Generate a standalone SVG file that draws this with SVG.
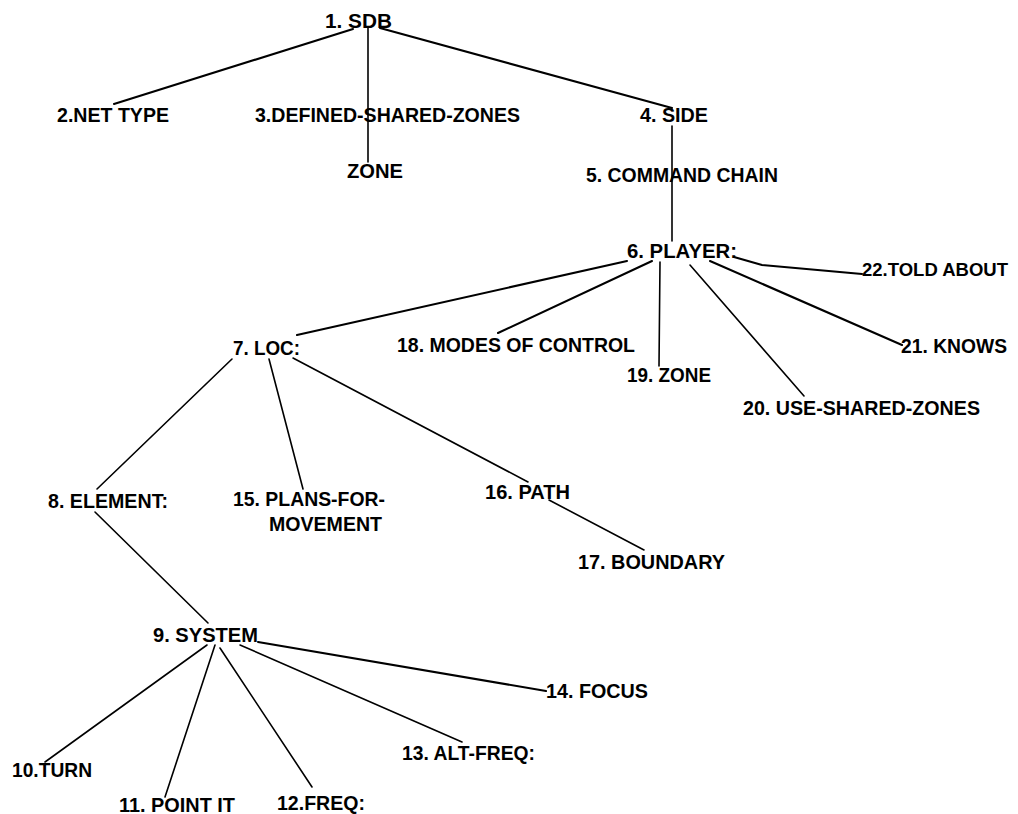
<svg xmlns="http://www.w3.org/2000/svg" width="1018" height="814" viewBox="0 0 1018 814">
<style>
.bg{fill:#ffffff}
.lbl{font-family:"Liberation Sans",Arial,sans-serif;font-weight:bold;font-size:20px;fill:#000}
.c line,.c polyline{stroke:#000;stroke-width:1.6;fill:none;stroke-linecap:round;stroke-linejoin:round}
.c .thick{stroke-width:2.1}
</style>
<rect class="bg" x="0" y="0" width="1018" height="814"/>
<g id="connectors" class="c">
<line class="thick" x1="353" y1="29" x2="114" y2="104"/>
<line x1="368" y1="28" x2="368" y2="162"/>
<line class="thick" x1="380" y1="28" x2="672" y2="108"/>
<line x1="672" y1="126" x2="672" y2="241"/>
<line class="thick" x1="627" y1="261" x2="297" y2="335"/>
<line class="thick" x1="652" y1="261" x2="498" y2="333"/>
<line x1="660" y1="262" x2="659" y2="366"/>
<line x1="690" y1="265" x2="804" y2="396"/>
<line class="thick" x1="710" y1="261" x2="902" y2="345"/>
<polyline class="thick" points="734,257 762,265 862,274"/>
<line x1="232" y1="359" x2="97" y2="489"/>
<line x1="269" y1="359" x2="303" y2="489"/>
<line x1="293" y1="358" x2="528" y2="482"/>
<line x1="549" y1="500" x2="644" y2="550"/>
<line x1="95" y1="512" x2="208" y2="623"/>
<line x1="207" y1="645" x2="45" y2="762"/>
<line x1="215" y1="645" x2="165" y2="797"/>
<line x1="220" y1="648" x2="312" y2="787"/>
<line x1="240" y1="645" x2="462" y2="742"/>
<line class="thick" x1="258" y1="642" x2="546" y2="691"/>
</g>
<g id="n1"><text class="lbl" x="325" y="28" textLength="67" lengthAdjust="spacingAndGlyphs">1. SDB</text></g>
<g id="n2"><text class="lbl" x="57" y="122" textLength="112" lengthAdjust="spacingAndGlyphs">2.NET TYPE</text></g>
<g id="n3"><text class="lbl" x="255" y="122" textLength="265" lengthAdjust="spacingAndGlyphs">3.DEFINED-SHARED-ZONES</text></g>
<g id="n4"><text class="lbl" x="640" y="122" textLength="68" lengthAdjust="spacingAndGlyphs">4. SIDE</text></g>
<g id="n3zone"><text class="lbl" x="347" y="178" textLength="56" lengthAdjust="spacingAndGlyphs">ZONE</text></g>
<g id="n5"><text class="lbl" x="586" y="182" textLength="192" lengthAdjust="spacingAndGlyphs">5. COMMAND CHAIN</text></g>
<g id="n6"><text class="lbl" x="627" y="258" textLength="110" lengthAdjust="spacingAndGlyphs">6. PLAYER:</text></g>
<g id="n22"><text class="lbl" x="862" y="276" style="font-size:18.5px" textLength="146" lengthAdjust="spacingAndGlyphs">22.TOLD ABOUT</text></g>
<g id="n7"><text class="lbl" x="233" y="355" textLength="67" lengthAdjust="spacingAndGlyphs">7. LOC:</text></g>
<g id="n18"><text class="lbl" x="397" y="352" textLength="238" lengthAdjust="spacingAndGlyphs">18. MODES OF CONTROL</text></g>
<g id="n19"><text class="lbl" x="627" y="382" textLength="84" lengthAdjust="spacingAndGlyphs">19. ZONE</text></g>
<g id="n21"><text class="lbl" x="901" y="353" textLength="106" lengthAdjust="spacingAndGlyphs">21. KNOWS</text></g>
<g id="n20"><text class="lbl" x="743" y="415" textLength="237" lengthAdjust="spacingAndGlyphs">20. USE-SHARED-ZONES</text></g>
<g id="n8"><text class="lbl" x="48" y="508" textLength="120" lengthAdjust="spacingAndGlyphs">8. ELEMENT:</text></g>
<g id="n15"><text class="lbl" x="233" y="506" textLength="152" lengthAdjust="spacingAndGlyphs">15. PLANS-FOR-</text><text class="lbl" x="269" y="531" textLength="113" lengthAdjust="spacingAndGlyphs">MOVEMENT</text></g>
<g id="n16"><text class="lbl" x="485" y="499" textLength="85" lengthAdjust="spacingAndGlyphs">16. PATH</text></g>
<g id="n17"><text class="lbl" x="578" y="569" textLength="147" lengthAdjust="spacingAndGlyphs">17. BOUNDARY</text></g>
<g id="n9"><text class="lbl" x="153" y="642" textLength="105" lengthAdjust="spacingAndGlyphs">9. SYSTEM</text></g>
<g id="n14"><text class="lbl" x="546" y="698" textLength="102" lengthAdjust="spacingAndGlyphs">14. FOCUS</text></g>
<g id="n13"><text class="lbl" x="402" y="760" textLength="133" lengthAdjust="spacingAndGlyphs">13. ALT-FREQ:</text></g>
<g id="n10"><text class="lbl" x="12" y="777" textLength="80" lengthAdjust="spacingAndGlyphs">10.TURN</text></g>
<g id="n11"><text class="lbl" x="119" y="812" textLength="116" lengthAdjust="spacingAndGlyphs">11. POINT IT</text></g>
<g id="n12"><text class="lbl" x="277" y="810" textLength="88" lengthAdjust="spacingAndGlyphs">12.FREQ:</text></g>
</svg>
